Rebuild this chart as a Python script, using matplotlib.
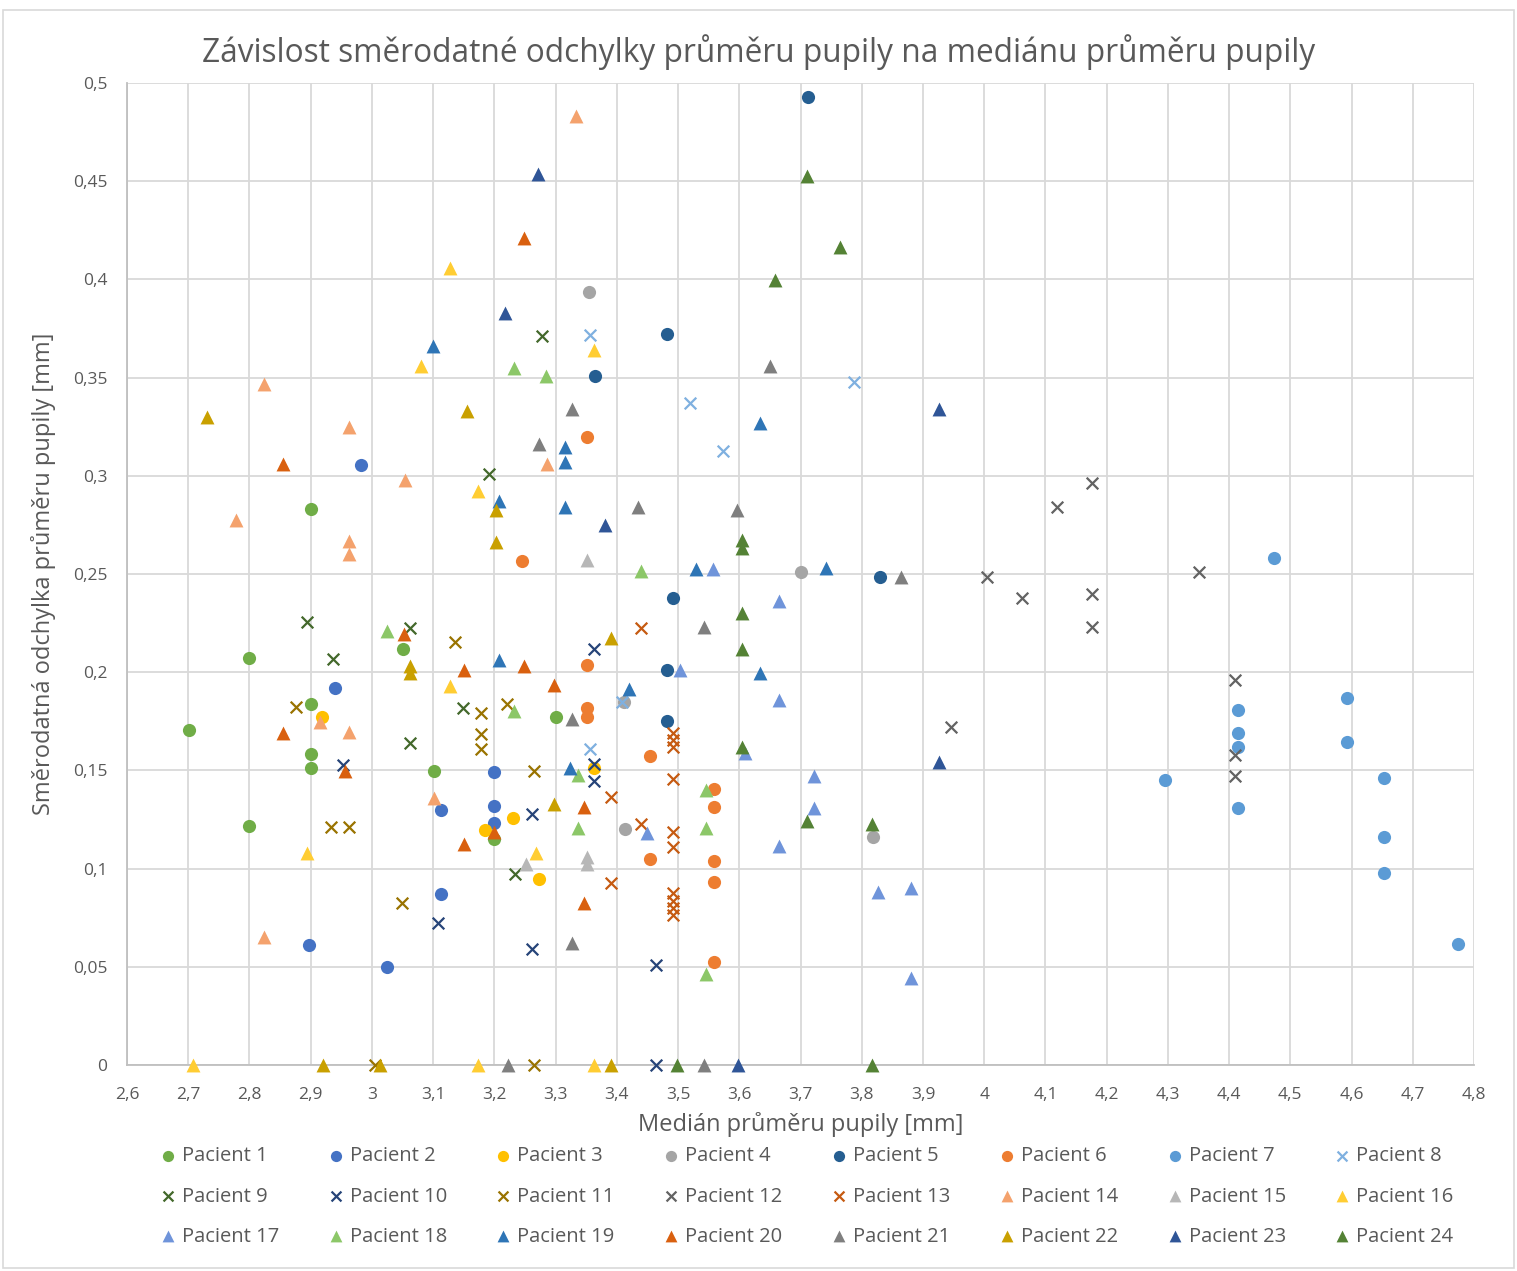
import matplotlib
matplotlib.use("Agg")
import matplotlib.pyplot as plt
from matplotlib.patches import Rectangle
from matplotlib.ticker import FuncFormatter, MultipleLocator

plt.rcParams["font.family"] = ["Open Sans", "DejaVu Sans"]

# (median diameter [mm], std of diameter [mm]) per patient
p1 = [(2.701, 0.1707), (2.800, 0.207), (2.800, 0.1217), (2.900, 0.283), (2.900, 0.1838),
      (2.900, 0.1584), (2.900, 0.1514), (3.051, 0.212), (3.101, 0.1495), (3.199, 0.115),
      (3.300, 0.1774)]
p2 = [(2.982, 0.3055), (2.939, 0.192), (3.113, 0.130), (3.113, 0.0869), (2.897, 0.061),
      (3.025, 0.050), (3.199, 0.149), (3.199, 0.132), (3.199, 0.123)]
p3 = [(2.919, 0.1774), (3.363, 0.151), (3.230, 0.1256), (3.185, 0.1197), (3.273, 0.0947)]
p4 = [(3.355, 0.3936), (3.700, 0.251), (3.411, 0.185), (3.413, 0.120), (3.818, 0.116)]
p5 = [(3.713, 0.4927), (3.482, 0.372), (3.365, 0.351), (3.830, 0.2486), (3.491, 0.238),
      (3.482, 0.201), (3.482, 0.1753)]
p6 = [(3.351, 0.320), (3.245, 0.2566), (3.351, 0.2037), (3.351, 0.182), (3.351, 0.1774),
      (3.454, 0.1575), (3.559, 0.1405), (3.559, 0.1315), (3.454, 0.1049), (3.559, 0.1037),
      (3.559, 0.0933), (3.559, 0.0526)]
p7 = [(4.474, 0.258), (4.415, 0.1807), (4.415, 0.1692), (4.415, 0.1618), (4.415, 0.131),
      (4.295, 0.145), (4.592, 0.187), (4.592, 0.1646), (4.653, 0.146), (4.653, 0.116),
      (4.653, 0.0976), (4.773, 0.0616)]
p8 = [(3.356, 0.3717), (3.519, 0.337), (3.573, 0.3128), (3.788, 0.348), (3.409, 0.185),
      (3.356, 0.161)]
p9 = [(3.277, 0.3712), (3.192, 0.301), (2.894, 0.2257), (3.063, 0.2223), (2.936, 0.2066),
      (3.149, 0.182), (3.063, 0.164), (3.234, 0.0971)]
p10 = [(3.362, 0.212), (2.953, 0.1527), (3.362, 0.1533), (3.362, 0.1446), (3.261, 0.128),
       (3.108, 0.0721), (3.261, 0.059), (3.464, 0.051), (3.464, 0.0)]
p11 = [(3.135, 0.2155), (2.876, 0.1825), (3.220, 0.1838), (3.178, 0.179), (3.178, 0.1684),
       (3.178, 0.161), (3.265, 0.1495), (2.933, 0.1214), (2.963, 0.1214), (3.049, 0.0823),
       (3.005, 0.0), (3.265, 0.0)]
p12 = [(4.176, 0.2962), (4.119, 0.284), (4.004, 0.2486), (4.351, 0.251), (4.062, 0.238),
       (4.176, 0.2397), (4.176, 0.2232), (3.945, 0.1723), (4.410, 0.196), (4.410, 0.158),
       (4.410, 0.147)]
p13 = [(3.440, 0.2223), (3.492, 0.169), (3.492, 0.1655), (3.492, 0.162), (3.492, 0.1456),
       (3.390, 0.1366), (3.440, 0.1226), (3.492, 0.1188), (3.492, 0.111), (3.390, 0.0925),
       (3.492, 0.0878), (3.492, 0.0835), (3.492, 0.080), (3.492, 0.0765)]
p14 = [(3.333, 0.483), (2.824, 0.3466), (2.963, 0.325), (3.054, 0.298), (2.778, 0.2775),
       (2.963, 0.267), (2.963, 0.260), (3.286, 0.306), (2.916, 0.1748), (2.963, 0.1697),
       (3.101, 0.136), (2.824, 0.0653)]
p15 = [(3.352, 0.257), (3.352, 0.1057), (3.352, 0.1023), (3.252, 0.1023)]
p16 = [(3.127, 0.406), (3.081, 0.356), (3.362, 0.364), (3.174, 0.292), (3.127, 0.1932),
       (2.894, 0.108), (3.268, 0.108), (2.708, 0.0), (3.174, 0.0), (3.362, 0.0)]
p17 = [(3.557, 0.2525), (3.665, 0.236), (3.503, 0.201), (3.665, 0.1858), (3.610, 0.159),
       (3.722, 0.147), (3.722, 0.1307), (3.450, 0.118), (3.665, 0.1115), (3.826, 0.0879),
       (3.880, 0.090), (3.880, 0.0441)]
p18 = [(3.232, 0.355), (3.284, 0.351), (3.440, 0.2517), (3.024, 0.2211), (3.232, 0.180),
       (3.336, 0.1477), (3.545, 0.140), (3.336, 0.1205), (3.545, 0.1205), (3.545, 0.0463)]
p19 = [(3.099, 0.366), (3.634, 0.3267), (3.315, 0.3148), (3.315, 0.307), (3.207, 0.2873),
       (3.315, 0.284), (3.529, 0.2525), (3.742, 0.253), (3.207, 0.206), (3.634, 0.1998),
       (3.420, 0.1914), (3.323, 0.151)]
p20 = [(3.248, 0.421), (2.855, 0.306), (3.052, 0.2194), (3.151, 0.201), (3.248, 0.2031),
       (3.298, 0.1935), (2.855, 0.169), (2.956, 0.1499), (3.347, 0.1312), (3.199, 0.1188),
       (3.151, 0.1124), (3.347, 0.0823)]
p21 = [(3.650, 0.356), (3.327, 0.334), (3.273, 0.316), (3.435, 0.284), (3.597, 0.2826),
       (3.864, 0.2486), (3.543, 0.2232), (3.327, 0.176), (3.327, 0.062), (3.222, 0.0),
       (3.543, 0.0)]
p22 = [(2.731, 0.330), (3.155, 0.333), (3.202, 0.2826), (3.202, 0.2663), (3.390, 0.2172),
       (3.062, 0.2031), (3.062, 0.1994), (3.297, 0.133), (2.920, 0.0), (3.013, 0.0),
       (3.390, 0.0)]
p23 = [(3.272, 0.4537), (3.218, 0.3827), (3.926, 0.334), (3.381, 0.275), (3.926, 0.1544),
       (3.598, 0.0)]
p24 = [(3.710, 0.4528), (3.764, 0.4167), (3.658, 0.3997), (3.604, 0.2673), (3.604, 0.263),
       (3.604, 0.230), (3.604, 0.212), (3.604, 0.1617), (3.710, 0.1242), (3.816, 0.1226),
       (3.498, 0.0), (3.816, 0.0)]

patients = [p1, p2, p3, p4, p5, p6, p7, p8, p9, p10, p11, p12,
            p13, p14, p15, p16, p17, p18, p19, p20, p21, p22, p23, p24]
names = [f"Pacient {i}" for i in range(1, 25)]
markers = ["o"] * 7 + ["x"] * 6 + ["^"] * 11
colors = ["#70AD47", "#4472C4", "#FFC000", "#A5A5A5", "#255E91", "#ED7D31",
          "#5B9BD5", "#7FB0E0", "#43682B", "#264478", "#997300", "#636363",
          "#C55A11", "#F4A26D", "#B7B7B7", "#FFCD33", "#6F94DA", "#8CC768",
          "#2E75B6", "#D9600F", "#7F7F7F", "#C9A000", "#2F5597", "#548235"]

TEXT = "#595959"

fig = plt.figure(figsize=(15.17, 12.71), dpi=100)
ax = fig.add_axes([0.0837, 0.1621, 0.888, 0.7726])

handles = []
for pts, name, m, c in zip(patients, names, markers, colors):
    xs = [p[0] for p in pts]
    ys = [p[1] for p in pts]
    if m == "x":
        h = ax.scatter(xs, ys, marker="x", s=70, c=c, linewidths=1.6, label=name,
                       zorder=3, clip_on=False)
    elif m == "^":
        h = ax.scatter(xs, ys, marker="^", s=100, c=c, linewidths=0, label=name,
                       zorder=3, clip_on=False)
    else:
        h = ax.scatter(xs, ys, marker="o", s=90, c=c, linewidths=0, label=name,
                       zorder=3, clip_on=False)
    handles.append(h)

ax.set_xlim(2.6, 4.8)
ax.set_ylim(0, 0.5)
ax.xaxis.set_major_locator(MultipleLocator(0.1))
ax.yaxis.set_major_locator(MultipleLocator(0.05))
comma = FuncFormatter(lambda v, _: f"{v:.2f}".rstrip("0").rstrip(".").replace(".", ","))
ax.xaxis.set_major_formatter(comma)
ax.yaxis.set_major_formatter(comma)
ax.grid(True, color="#D9D9D9", linewidth=1.3, zorder=0)
ax.set_axisbelow(True)
for side in ["top", "right"]:
    ax.spines[side].set_visible(False)
for side in ["left", "bottom"]:
    ax.spines[side].set_color("#BFBFBF")
    ax.spines[side].set_linewidth(1.3)
ax.tick_params(length=0, labelsize=12.5, colors=TEXT)
ax.tick_params(axis="x", pad=16)
ax.tick_params(axis="y", pad=14)

ax.set_xlabel("Medián průměru pupily [mm]", fontsize=17, color=TEXT, labelpad=6)
ax.set_ylabel("Směrodatná odchylka průměru pupily [mm]", fontsize=17, color=TEXT, labelpad=12)
fig.text(0.5, 0.959, "Závislost směrodatné odchylky průměru pupily na mediánu průměru pupily",
         ha="center", va="center", fontsize=22.8, color=TEXT)

# legend reads row by row: reorder for matplotlib's column-wise filling
ncol, nrow = 8, 3
order = [r * ncol + c for c in range(ncol) for r in range(nrow)]
leg = fig.legend([handles[i] for i in order], [names[i] for i in order],
                 ncol=ncol, loc="upper left", bbox_to_anchor=(0.1040, 0.0980),
                 borderaxespad=0, borderpad=0,
                 frameon=False, fontsize=14.5, handletextpad=0.2, handlelength=1.0,
                 columnspacing=2.3, labelspacing=1.0, markerscale=0.85)
for t in leg.get_texts():
    t.set_color(TEXT)

fig.add_artist(Rectangle((0.002, 0.002), 0.996, 0.99, transform=fig.transFigure,
                         fill=False, edgecolor="#D9D9D9", linewidth=1.2))

fig.savefig("out.png", dpi=100, facecolor="white")
